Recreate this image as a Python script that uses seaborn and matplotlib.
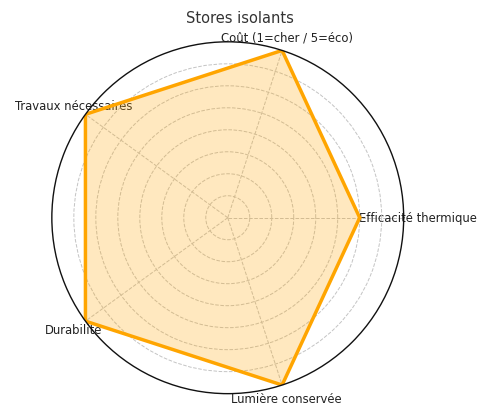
import numpy as np
import pandas as pd
import matplotlib
matplotlib.use("Agg")
import matplotlib.pyplot as plt
import seaborn as sns

# criteria and scores (scale 0-4)
criteres = ["Efficacité thermique", "Coût (1=cher / 5=éco)", "Travaux nécessaires",
            "Durabilité", "Lumière conservée"]
scores = [3, 4, 4, 4, 4]

sns.set_style("white")
plt.rcParams['font.family'] = ['DejaVu Sans']

angles = np.linspace(0, 2 * np.pi, len(criteres), endpoint=False)
df = pd.DataFrame({
    "angle": np.append(angles, 2 * np.pi),
    "score": scores + scores[:1],
})

fig = plt.figure(figsize=(4.8, 4.1), dpi=100)
ax = fig.add_axes([0.108, 0.037, 0.733, 0.859], projection="polar")

sns.lineplot(data=df, x="angle", y="score", sort=False, estimator=None, ax=ax,
             color="#FFA500", linewidth=2.5)
ax.fill(df["angle"], df["score"], color="#FFA500", alpha=0.25)

ax.set_ylim(0, 4)
ax.set_yticks(np.arange(0.5, 4.0, 0.5))
ax.set_yticklabels([])
ax.set_xticks(angles)
ax.set_xticklabels(criteres, fontsize=8.4, color="#222222")
ax.tick_params(axis="x", pad=0)
ax.set_xlabel("")
ax.set_ylabel("")
ax.grid(True, linestyle="--", color="#c4c4c4", linewidth=0.7)
ax.spines["polar"].set_color("#111111")
ax.spines["polar"].set_linewidth(1.0)

fig.suptitle("Stores isolants", fontsize=10.5, y=0.972, color="#333333")

fig.savefig("out.png", dpi=100)
